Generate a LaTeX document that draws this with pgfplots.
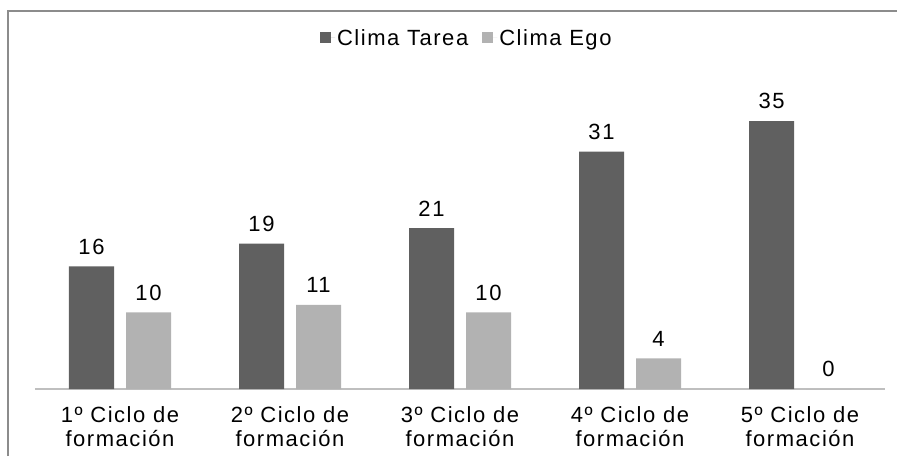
\documentclass[border=0pt]{standalone}
\usepackage{pgfplots}
\pgfplotsset{compat=1.18}
\usepackage{fontspec}
\setmainfont{Liberation Sans}[LetterSpace=7]
\definecolor{dark}{HTML}{606060}
\definecolor{light}{HTML}{B2B2B2}
\definecolor{frame}{HTML}{8C8C8C}
\definecolor{axisgray}{HTML}{BFBFBF}
\begin{document}
\begin{tikzpicture}[x=1pt,y=1pt]
\path[use as bounding box] (0,0) rectangle (897,456);
\draw[frame, line width=2pt] (8,0) -- (8,445) -- (897,445);
\begin{axis}[
  at={(35pt,67pt)}, anchor=south west,
  scale only axis, width=850pt, height=268pt,
  xmin=-0.5, xmax=4.5, ymin=0, ymax=35,
  ybar=12pt, bar width=45pt,
  axis y line=none, axis x line*=bottom,
  x axis line style={axisgray, line width=1.5pt, -},
  xtick={0,1,2,3,4}, major tick length=0pt,
  xticklabels={1º Ciclo de\\formación, 2º Ciclo de\\formación, 3º Ciclo de\\formación, 4º Ciclo de\\formación, 5º Ciclo de\\formación},
  xticklabel style={align=center, inner sep=0pt, yshift=-17pt, font=\fontsize{22}{24}\selectfont},
  /pgf/number format/assume math mode=true,
  nodes near coords,
  every node near coord/.append style={font=\fontsize{22}{24}\selectfont, anchor=south, inner sep=0pt, yshift=12pt, text=black},
  clip=false,
  legend style={at={(0.508,1.31)}, anchor=center, draw=none, fill=none, legend columns=2,
    font=\fontsize{22}{24}\selectfont,
    /tikz/every even column/.append style={column sep=12pt},
    /tikz/every odd column/.append style={column sep=0pt}},
  legend image code/.code={\fill[#1] (0pt,-5.5pt) rectangle (11pt,5.5pt); \path (0pt,0pt) -- (15pt,0pt);},
]
\addplot[fill=dark, draw=none] coordinates {(0,16) (1,19) (2,21) (3,31) (4,35)};
\addplot[fill=light, draw=none] coordinates {(0,10) (1,11) (2,10) (3,4) (4,0)};
\legend{Clima Tarea, Clima Ego}
\end{axis}
\end{tikzpicture}
\end{document}
